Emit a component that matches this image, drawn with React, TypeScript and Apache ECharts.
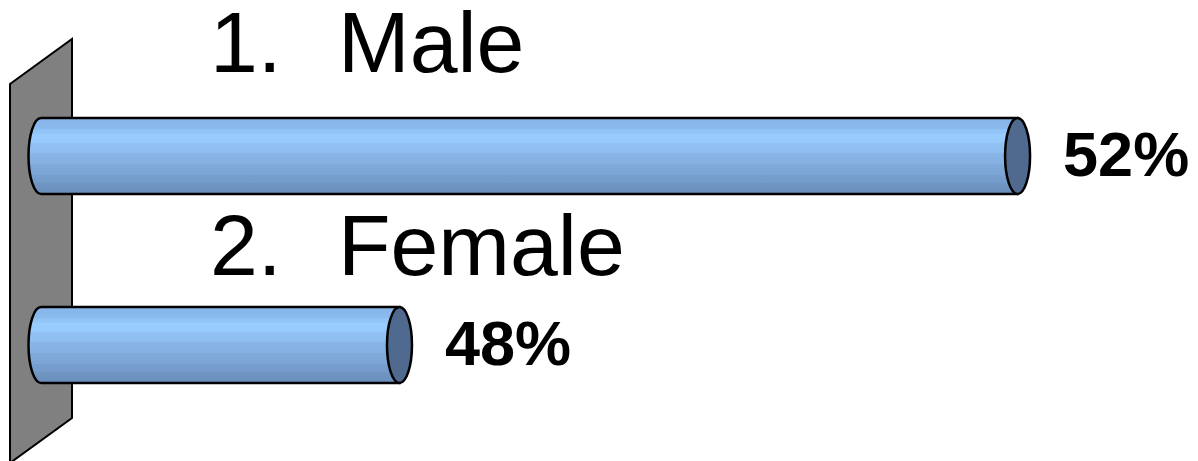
import React, { useEffect, useRef } from "react";
import * as echarts from "echarts";

const categories = ["Male", "Female"];
const listNumbers = ["1.", "2."];
const values = [52, 48];

const AXIS_MIN = 45.68;
const AXIS_MAX = 52.98;

export default function App() {
  const ref = useRef<HTMLDivElement>(null);

  useEffect(() => {
    if (!ref.current) return;
    const chart = echarts.init(ref.current, null, { renderer: "svg" });

    const bodyFill = new echarts.graphic.LinearGradient(0, 0, 0, 1, [
      { offset: 0, color: "#86B5E8" },
      { offset: 0.14, color: "#8ABAEE" },
      { offset: 0.14, color: "#90C1F4" },
      { offset: 0.21, color: "#94C6F8" },
      { offset: 0.21, color: "#99CCFF" },
      { offset: 0.33, color: "#97C9FC" },
      { offset: 0.33, color: "#92C2F5" },
      { offset: 0.46, color: "#8EBDEF" },
      { offset: 0.46, color: "#89B5E7" },
      { offset: 0.6, color: "#85B0E1" },
      { offset: 0.6, color: "#80AADB" },
      { offset: 0.75, color: "#7CA5D5" },
      { offset: 0.75, color: "#779FCF" },
      { offset: 0.85, color: "#749BCA" },
      { offset: 0.85, color: "#7096C4" },
      { offset: 1, color: "#6A8EBA" },
    ]);

    const labelFont = "Liberation Sans, Arial, Helvetica, sans-serif";
    const titleBottoms = [85, 288];

    const graphic: any[] = [
      {
        type: "polygon",
        z: -10,
        shape: { points: [[10, 84], [72, 39], [72, 418], [10, 463]] },
        style: { fill: "#808080", stroke: "#000000", lineWidth: 2 },
      },
    ];
    categories.forEach((c, i) => {
      graphic.push({
        type: "text",
        x: 210,
        y: titleBottoms[i],
        style: {
          text: listNumbers[i],
          fill: "#000000",
          fontSize: 86,
          fontFamily: labelFont,
          verticalAlign: "bottom",
        },
      });
      graphic.push({
        type: "text",
        x: 338,
        y: titleBottoms[i],
        style: {
          text: c,
          fill: "#000000",
          fontSize: 86,
          fontFamily: labelFont,
          verticalAlign: "bottom",
        },
      });
    });

    const option: any = {
      animation: false,
      backgroundColor: "#ffffff",
      grid: { left: 41, right: 29, top: 61.5, bottom: 21.5 },
      xAxis: {
        type: "value",
        min: AXIS_MIN,
        max: AXIS_MAX,
        show: false,
        splitLine: { show: false },
      },
      yAxis: {
        type: "category",
        data: categories,
        inverse: true,
        show: false,
      },
      graphic,
      series: [
        {
          type: "custom",
          clip: false,
          data: values.map((v, i) => [v, i]),
          encode: { x: 0, y: 1 },
          renderItem: (params: any, api: any) => {
            const v = api.value(0);
            const idx = api.value(1);
            const end = api.coord([v, idx]);
            const start = api.coord([AXIS_MIN, idx]);
            const band = api.size([0, 1])[1];
            const h = band * 0.402;
            const cy = end[1];
            const top = cy - h / 2;
            const bottom = cy + h / 2;
            const xs = start[0];
            const xe = end[0];
            const rx = 12.5;
            const ry = h / 2;
            const d =
              `M ${xs} ${top} L ${xe} ${top} L ${xe} ${bottom} L ${xs} ${bottom} ` +
              `A ${rx} ${ry} 0 0 1 ${xs} ${top} Z`;
            return {
              type: "group",
              children: [
                {
                  type: "path",
                  shape: { pathData: d },
                  style: { fill: bodyFill, stroke: "#000000", lineWidth: 2.5 },
                },
                {
                  type: "ellipse",
                  shape: { cx: xe, cy, rx, ry },
                  style: { fill: "#4F6A8E", stroke: "#000000", lineWidth: 2.5 },
                },
                {
                  type: "text",
                  x: xe + rx + 33,
                  y: cy - 2,
                  style: {
                    text: `${v}%`,
                    fill: "#000000",
                    fontSize: 63,
                    fontWeight: "bold",
                    fontFamily: labelFont,
                    verticalAlign: "middle",
                    align: "left",
                  },
                },
              ],
            };
          },
        },
      ],
    };

    chart.setOption(option);
    return () => chart.dispose();
  }, []);

  return (
    <div
      ref={ref}
      style={{ position: "absolute", left: 0, top: 0, width: 1198, height: 461 }}
    />
  );
}
